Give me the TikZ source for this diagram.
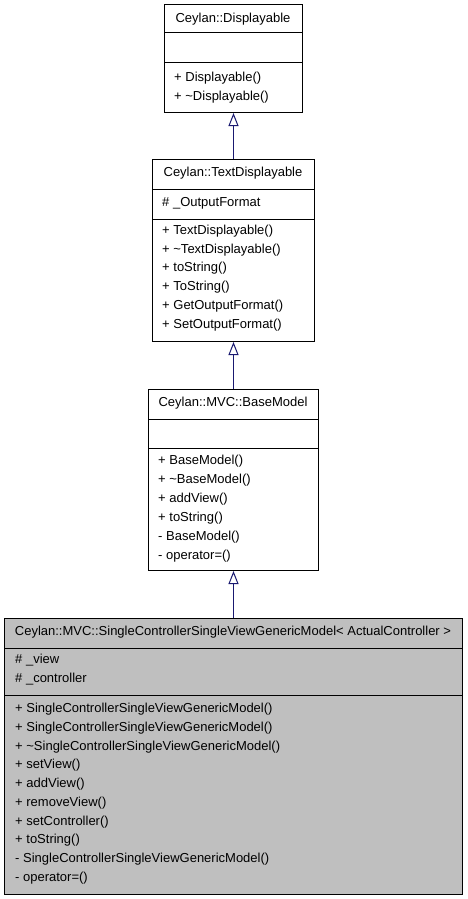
\documentclass[tikz,border=0pt]{standalone}
\usepackage{fontspec}
\setmainfont{Liberation Sans}
\usetikzlibrary{arrows.meta}
\definecolor{midblue}{HTML}{191970}
\definecolor{boxgray}{HTML}{BFBFBF}
\begin{document}
\begin{tikzpicture}[x=1pt,y=-1pt,
 cls/.style={draw=black, line width=1pt, inner sep=0pt, anchor=north west},
 sepline/.style={draw=black, line width=1pt},
 ttl/.style={font=\fontsize{13}{15}\selectfont, inner sep=0pt, text height=9.5pt, text depth=2.7pt},
 mem/.style={ttl, anchor=west},
 inh/.style={draw=midblue, line width=1pt, -{Triangle[open, length=13pt, width=10pt, fill=white]}}]
\useasboundingbox[fill=white] (0,0) rectangle (467,899);
% Box 1
\node[cls, minimum width=138pt, minimum height=108pt] (c1) at (164,4) {};
\node[ttl] (t1) at (233,19) {Ceylan::Displayable};
\draw[sepline] (164,33) -- (302,33);
\draw[sepline] (164,63) -- (302,63);
\node[mem] (m1a) at (174,78) {+ Displayable()};
\node[mem] (m1b) at (174,97) {+ \textasciitilde Displayable()};
% Box 2
\node[cls, minimum width=162pt, minimum height=182pt] (c2) at (152,159) {};
\node[ttl] (t2) at (233,173) {Ceylan::TextDisplayable};
\draw[sepline] (152,189) -- (314,189);
\draw[sepline] (152,219) -- (314,219);
\node[mem] (a2a) at (162,203) {\# \_OutputFormat};
\node[mem] (m2a) at (162,231) {+ TextDisplayable()};
\node[mem] (m2b) at (162,250) {+ \textasciitilde TextDisplayable()};
\node[mem] (m2c) at (162,268) {+ toString()};
\node[mem] (m2d) at (162,287) {+ ToString()};
\node[mem] (m2e) at (162,306) {+ GetOutputFormat()};
\node[mem] (m2f) at (162,325) {+ SetOutputFormat()};
% Box 3
\node[cls, minimum width=170pt, minimum height=181pt] (c3) at (148,389) {};
\node[ttl] (t3) at (233,403) {Ceylan::MVC::BaseModel};
\draw[sepline] (148,419) -- (318,419);
\draw[sepline] (148,448) -- (318,448);
\node[mem] (m3a) at (158,461) {+ BaseModel()};
\node[mem] (m3b) at (158,480) {+ \textasciitilde BaseModel()};
\node[mem] (m3c) at (158,499) {+ addView()};
\node[mem] (m3d) at (158,518) {+ toString()};
\node[mem] (m3e) at (158,537) {- BaseModel()};
\node[mem] (m3f) at (158,556) {- operator=()};
% Box 4
\node[cls, fill=boxgray, minimum width=458pt, minimum height=276pt] (c4) at (4,618) {};
\node[ttl] (t4) at (233,632) {Ceylan::MVC::SingleControllerSingleViewGenericModel< ActualController >};
\draw[sepline] (4,648) -- (462,648);
\draw[sepline] (4,695) -- (462,695);
\node[mem] (a4a) at (15,660) {\# \_view};
\node[mem] (a4b) at (15,679) {\# \_controller};
\node[mem] (m4a) at (15,709) {+ SingleControllerSingleViewGenericModel()};
\node[mem] (m4b) at (15,728) {+ SingleControllerSingleViewGenericModel()};
\node[mem] (m4c) at (15,747) {+ \textasciitilde SingleControllerSingleViewGenericModel()};
\node[mem] (m4d) at (15,765) {+ setView()};
\node[mem] (m4e) at (15,784) {+ addView()};
\node[mem] (m4f) at (15,803) {+ removeView()};
\node[mem] (m4g) at (15,822) {+ setController()};
\node[mem] (m4h) at (15,840) {+ toString()};
\node[mem] (m4i) at (15,859) {- SingleControllerSingleViewGenericModel()};
\node[mem] (m4j) at (15,878) {- operator=()};
% Inheritance
\draw[inh] (c2.north) -- (c1.south);
\draw[inh] (c3.north) -- (c2.south);
\draw[inh] (c4.north) -- (c3.south);
\end{tikzpicture}
\end{document}
